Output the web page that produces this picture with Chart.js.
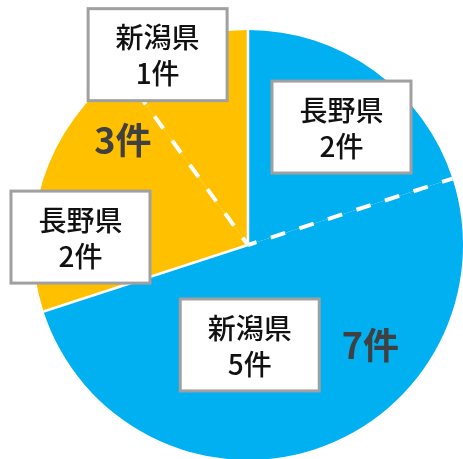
<!DOCTYPE html>
<html>
<head>
<meta charset="utf-8">
<script src="https://cdn.jsdelivr.net/npm/chart.js@4/dist/chart.umd.min.js"></script>
<style>
  html, body { margin: 0; padding: 0; background: #fff; overflow: hidden; }
  #wrap { width: 463px; height: 459px; }
</style>
</head>
<body>
<div id="wrap"><canvas id="pieChart"></canvas></div>
<script>
// Data
var prefectures = ['長野県', '新潟県', '長野県', '新潟県'];
var counts = [2, 5, 2, 1];
var groupOf = [0, 0, 1, 1];          // which big slice each part belongs to
var groupColors = ['#00B0F0', '#FFC000'];

// Label placement: angle shift (deg) from arc middle, radius fraction
var partPlace = [
  { shift: 2.4, r: 0.70 },
  { shift: 17, r: 0.465 },
  { shift: -15.3, r: 0.78 },
  { shift: -7.4, r: 0.98 }
];
var groupPlace = [
  { shift: 3.3, r: 0.735 },
  { shift: 4, r: 0.76 }
];

var ctx = document.getElementById('pieChart').getContext('2d');

function drawRay(c, arc, angle, dashed) {
  c.save();
  c.strokeStyle = '#fff';
  if (dashed) {
    c.lineWidth = 4;
    c.setLineDash([15, 15]);
    c.lineDashOffset = 6;
  } else {
    c.lineWidth = 2.5;
  }
  c.beginPath();
  c.moveTo(arc.x, arc.y);
  c.lineTo(arc.x + Math.cos(angle) * arc.outerRadius, arc.y + Math.sin(angle) * arc.outerRadius);
  c.stroke();
  c.restore();
}

// Draws dividers, label boxes and group totals on top of the pie.
var labelPlugin = {
  id: 'boxLabels',
  afterDatasetsDraw: function(chart) {
    var c = chart.ctx;
    var arcs = chart.getDatasetMeta(0).data;
    var deg = Math.PI / 180;

    arcs.forEach(function(arc, i) {
      var prev = (i + arcs.length - 1) % arcs.length;
      drawRay(c, arc, arc.startAngle, groupOf[prev] === groupOf[i]);
    });

    // group totals
    groupColors.forEach(function(col, g) {
      var start = null, end = null, total = 0;
      arcs.forEach(function(arc, i) {
        if (groupOf[i] !== g) return;
        if (start === null) start = arc.startAngle;
        end = arc.endAngle;
        total += counts[i];
      });
      var a = (start + end) / 2 + groupPlace[g].shift * deg;
      var r = arcs[0].outerRadius * groupPlace[g].r;
      c.save();
      c.fillStyle = '#404040';
      c.font = 'bold 36px "Noto Sans CJK JP"';
      c.textAlign = 'center';
      c.textBaseline = 'middle';
      c.fillText(total + '件', arcs[0].x + Math.cos(a) * r, arcs[0].y + Math.sin(a) * r);
      c.restore();
    });

    // part boxes
    arcs.forEach(function(arc, i) {
      var a = (arc.startAngle + arc.endAngle) / 2 + partPlace[i].shift * deg;
      var r = arc.outerRadius * partPlace[i].r;
      var cx = arc.x + Math.cos(a) * r;
      var cy = arc.y + Math.sin(a) * r;
      var w = 139, h = 92;
      c.save();
      c.fillStyle = '#fff';
      c.fillRect(cx - w / 2, cy - h / 2, w, h);
      c.strokeStyle = '#A0A0A0';
      c.lineWidth = 3;
      c.strokeRect(cx - w / 2, cy - h / 2, w, h);
      c.fillStyle = '#111';
      c.font = '500 28px "Noto Sans CJK JP"';
      c.textAlign = 'center';
      c.textBaseline = 'middle';
      c.fillText(prefectures[i], cx, cy - 17);
      c.fillText(counts[i] + '件', cx, cy + 19);
      c.restore();
    });
  }
};

var pieChart = new Chart(ctx, {
  type: 'pie',
  data: {
    labels: prefectures,
    datasets: [{
      data: counts,
      backgroundColor: groupOf.map(function(g) { return groupColors[g]; }),
      borderWidth: 0,
      radius: 215,
      clip: false
    }]
  },
  options: {
    responsive: true,
    maintainAspectRatio: false,
    animation: false,
    layout: { padding: { left: 33, top: 31, right: 0, bottom: 0 } },
    plugins: {
      legend: { display: false },
      tooltip: { enabled: false }
    }
  },
  plugins: [labelPlugin]
});
</script>
</body>
</html>
